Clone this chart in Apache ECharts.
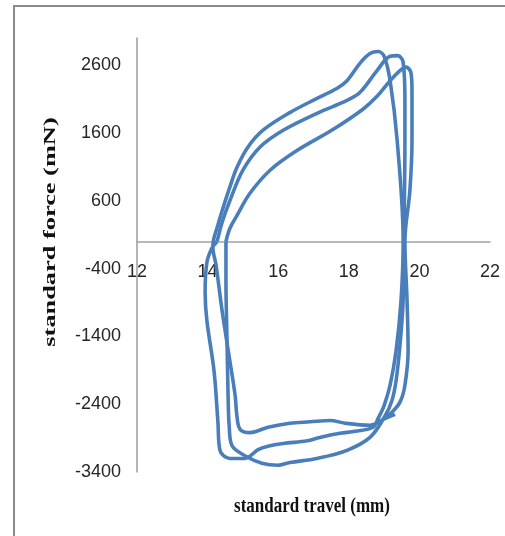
<!DOCTYPE html>
<html><head><meta charset="utf-8">
<script src="https://cdn.jsdelivr.net/npm/echarts@6/dist/echarts.min.js"></script>
<style>html,body{margin:0;padding:0;background:#fff}#c{width:505px;height:536px}</style>
</head><body><div id="c"></div>
<script>
// Axis ticks
const xTicks = [12, 14, 16, 18, 20, 22];
const yTicks = [-3400, -2400, -1400, -400, 600, 1600, 2600];
const yTop = 3000;
const xTitle = 'standard travel (mm)';
const yTitle = 'standard force (mN)';

// Cycle 1: upper return curve, outer loading curve, middle return curve
const travel1 = [19.31,19.03,18.60,17.89,17.47,16.90,16.33,15.71,15.20,14.92,14.83,14.78,14.63,14.41,14.24,14.15,14.16,
  14.29,14.44,14.63,14.83,15.14,15.57,16.33,17.10,17.67,17.95,18.32,18.60,18.83,19.00,19.17,19.37,19.54,
  19.48,19.34,19.17,19.00,18.83,18.69,18.18,17.75,17.18,16.82,16.14,15.71,15.43,15.06,14.63,14.35,14.29,14.18,13.98,13.93,13.98,14.12,14.27];
const force1 = [-2550,-2610,-2710,-2680,-2640,-2660,-2680,-2740,-2820,-2770,-2570,-2270,-1760,-1020,-350,-90,0,
  240,500,800,1090,1390,1640,1900,2110,2260,2370,2630,2770,2800,2730,2370,1490,0,
  -870,-1610,-2120,-2420,-2610,-2740,-2800,-2830,-2890,-2940,-2980,-3020,-3070,-3200,-3200,-3080,-2640,-1900,-1170,-750,-310,-100,0];

// Cycle 2: middle loading curve, lowest return curve, straight rise
const travel2 = [14.27,14.41,14.63,15.00,15.48,16.14,17.10,17.95,18.32,18.80,19.17,19.39,19.54,19.59,19.59,19.56,
  19.54,19.45,19.34,19.22,19.03,18.60,17.95,17.10,16.33,15.99,15.54,15.06,14.69,14.61,14.58,14.55,14.52,14.52];
const force2 = [0,280,600,1050,1390,1640,1890,2080,2200,2520,2730,2740,2640,2080,1490,0,
  -870,-1530,-2050,-2350,-2570,-2890,-3080,-3200,-3260,-3300,-3270,-3160,-3010,-2710,-2270,-1460,-580,0];

// Cycle 3: inner loading curve and last drop
const travel3 = [14.52,14.63,14.83,15.20,15.77,16.53,17.55,18.40,18.80,19.17,19.45,19.62,19.76,19.79,19.79,19.73,19.59,
  19.65,19.68,19.59,19.45,19.22,19.00];
const force3 = [0,190,380,710,1050,1340,1650,1950,2140,2370,2520,2570,2490,2230,1490,750,0,
  -870,-1610,-2120,-2370,-2520,-2610];

const zip = (a, b) => a.map((v, i) => [v, b[i]]);
const lineColor = '#4A7EBB';
const mkSeries = (name, xs, ys) => ({
  name, type: 'line', data: zip(xs, ys), showSymbol: false, smooth: 0.35,
  lineStyle: { color: lineColor, width: 3.6 }, itemStyle: { color: lineColor }
});

const gridTop = 38, gridBottom = 64, H = 536;
const plotH = H - gridTop - gridBottom;
const yMin = yTicks[0];
// distance from the bottom of the plot to force = 0
const zeroOffset = plotH * (0 - yMin) / (yTop - yMin);
const labelFont = '"Liberation Sans Narrow", "Liberation Sans", sans-serif';

const chart = echarts.init(document.getElementById('c'), null, { renderer: 'canvas' });
chart.setOption({
  animation: false,
  backgroundColor: '#ffffff',
  grid: { left: 137, right: 15, top: gridTop, bottom: gridBottom },
  xAxis: {
    type: 'value', min: xTicks[0], max: xTicks[xTicks.length - 1], interval: 2,
    position: 'bottom', offset: -zeroOffset,
    axisLine: { onZero: false, lineStyle: { color: '#a3a3a3', width: 1.6 } },
    axisTick: { show: false }, splitLine: { show: false },
    axisLabel: { margin: 22, color: '#262626', fontSize: 18, fontFamily: labelFont, formatter: v => String(v) }
  },
  yAxis: {
    type: 'value', min: yMin, max: yTop, interval: 1000,
    axisLine: { show: true, onZero: false, lineStyle: { color: '#a3a3a3', width: 1.6 } },
    axisTick: { show: false }, splitLine: { show: false },
    axisLabel: { margin: 16, showMaxLabel: false, color: '#262626', fontSize: 18, fontFamily: labelFont, formatter: v => String(v) }
  },
  graphic: [
    { type: 'rect', shape: { x: 14, y: 6, width: 520, height: 560 }, style: { fill: 'none', stroke: '#8a8a8a', lineWidth: 2 }, silent: true },
    { type: 'text', x: 312, y: 507, scaleY: 1.2,
      style: { text: xTitle, font: 'bold 17px "Liberation Serif", serif', fill: '#111', textAlign: 'center', textVerticalAlign: 'middle', align: 'center', verticalAlign: 'middle' } },
    { type: 'text', x: 51, y: 232, rotation: Math.PI / 2, scaleX: 1.55,
      style: { text: yTitle, font: 'bold 17px "Liberation Serif", serif', fill: '#111', textAlign: 'center', textVerticalAlign: 'middle', align: 'center', verticalAlign: 'middle' } }
  ],
  series: [
    mkSeries('cycle 1', travel1, force1),
    mkSeries('cycle 2', travel2, force2),
    mkSeries('cycle 3', travel3, force3)
  ]
});
</script></body></html>
